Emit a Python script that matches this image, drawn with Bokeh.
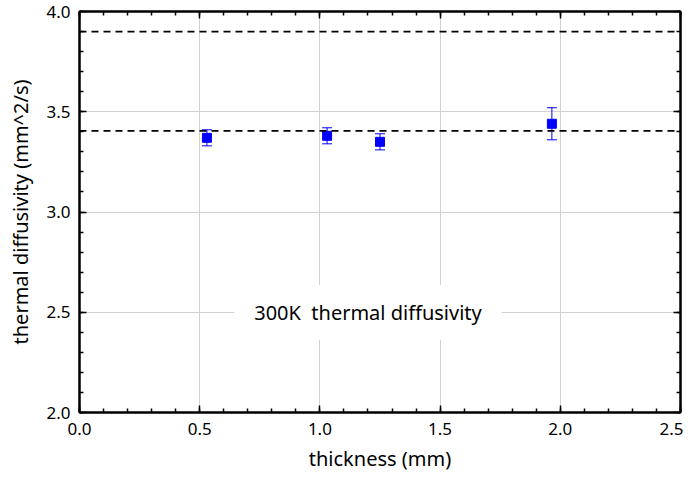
from bokeh.plotting import figure
from bokeh.models import (Span, Whisker, ColumnDataSource, Label, LinearAxis, Range1d,
                          BasicTicker, PrintfTickFormatter, CustomLabelingPolicy)
from bokeh.embed import file_html
from bokeh.resources import INLINE

thickness = [0.53, 1.03, 1.25, 1.965]
diffusivity = [3.37, 3.38, 3.35, 3.44]
err = [0.04, 0.04, 0.04, 0.08]
ref_lines = [3.9, 3.405]
label_text = "300K\u00a0 thermal diffusivity"
label_pos = (1.2, 2.5)

FONT = "Noto Sans"

src = ColumnDataSource(dict(
    x=thickness, y=diffusivity,
    upper=[v + e for v, e in zip(diffusivity, err)],
    lower=[v - e for v, e in zip(diffusivity, err)],
))

p = figure(width=683, height=474, x_range=Range1d(0, 2.5), y_range=Range1d(2, 4),
           output_backend="svg", toolbar_location=None,
           min_border_left=79, min_border_right=3, min_border_top=11, min_border_bottom=62)
p.outline_line_color = "black"
p.outline_line_width = 2

xt = BasicTicker(desired_num_ticks=6, num_minor_ticks=5)
yt = BasicTicker(desired_num_ticks=5, num_minor_ticks=5)

def style(ax, labels=True):
    ax.axis_line_color = "black"
    ax.axis_line_width = 2
    ax.major_tick_in = 7
    ax.major_tick_out = 0
    ax.minor_tick_in = 4
    ax.minor_tick_out = 0
    ax.major_tick_line_width = 1.5
    ax.minor_tick_line_width = 1.5
    ax.major_tick_line_color = "black"
    ax.minor_tick_line_color = "black"
    if labels:
        ax.formatter = PrintfTickFormatter(format="%.1f")
        ax.major_label_text_font = FONT
        ax.major_label_text_font_size = "17px"
        ax.major_label_text_color = "black"
        ax.axis_label_text_font = FONT
        ax.axis_label_text_font_size = "20px"
        ax.axis_label_text_font_style = "normal"
        ax.axis_label_text_color = "black"
    else:
        ax.major_label_standoff = 0
        ax.major_label_text_font_size = "0px"
        ax.major_label_policy = CustomLabelingPolicy(code="""
            const all = [...indices];
            for (const i of all) indices.unset(i);
            return indices;
        """)

p.xaxis.ticker = xt
p.yaxis.ticker = yt
p.xaxis.axis_label = "thickness (mm)"
p.yaxis.axis_label = "thermal diffusivity (mm^2/s)"
for ax in p.xaxis + p.yaxis:
    style(ax)
p.xaxis.major_label_standoff = 10
p.yaxis.major_label_standoff = 9
p.xaxis.axis_label_standoff = 7
p.yaxis.axis_label_standoff = 9

top = LinearAxis(ticker=xt)
right = LinearAxis(ticker=yt)
style(top, False)
style(right, False)
p.add_layout(top, "above")
p.add_layout(right, "right")

p.xgrid.ticker = xt
p.ygrid.ticker = yt
p.grid.grid_line_color = "#d2d2d2"
p.grid.grid_line_width = 1

for v in ref_lines:
    p.add_layout(Span(location=v, dimension="width", line_color="black",
                      line_dash="7 5", line_width=1.8))

w = Whisker(base="x", upper="upper", lower="lower", source=src,
            line_color="blue", line_width=1)
w.upper_head.line_color = "blue"
w.lower_head.line_color = "blue"
w.upper_head.size = 10
w.lower_head.size = 10
p.add_layout(w)

p.scatter("x", "y", source=src, marker="square", size=9, color="blue")

lbl = Label(x=label_pos[0], y=label_pos[1], text=label_text, text_align="center",
            text_baseline="middle", text_font=FONT, text_font_size="20px",
            text_color="black", background_fill_color="white", padding=(20, 14))
p.add_layout(lbl)

open("out.html", "w").write(file_html(p, INLINE))
